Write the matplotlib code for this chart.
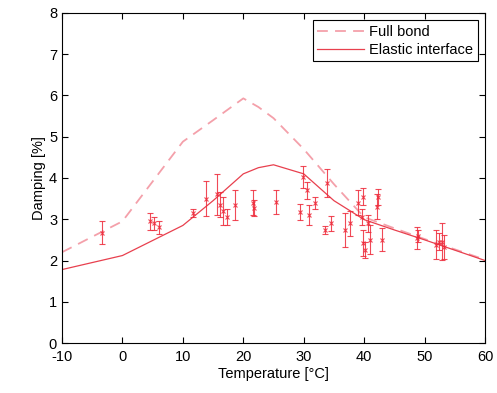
import matplotlib
matplotlib.use("Agg")
import matplotlib.pyplot as plt
import numpy as np

plt.rcParams['font.family'] = ['Liberation Sans', 'DejaVu Sans']
plt.rcParams['axes.unicode_minus'] = False

# model curves
temp_model = [-10, 0, 10, 15, 20, 22.5, 25, 30, 35, 40, 45, 50, 55, 60]
full_bond = [2.2, 2.95, 4.88, 5.4, 5.93, 5.72, 5.45, 4.7, 3.85, 3.05, 2.78, 2.52, 2.27, 2.02]
elastic = [1.78, 2.12, 2.85, 3.45, 4.1, 4.25, 4.32, 4.1, 3.45, 2.99, 2.74, 2.5, 2.25, 2.0]

# measurements
temp_meas = [-3.3, 4.5, 5.3, 6.0, 11.7, 13.8, 15.7, 16.2, 16.7, 17.3, 18.7,
             21.6, 21.8, 25.4, 29.4, 29.9, 30.6, 30.8, 31.9, 33.5, 33.9, 34.5,
             36.9, 37.7, 39.0, 39.6, 39.8, 39.8, 40.2, 40.7, 41.0, 42.1, 42.3,
             42.9, 48.7, 48.9, 51.8, 52.3, 52.9, 53.2]
damp_meas = [2.67, 2.95, 2.9, 2.8, 3.15, 3.5, 3.6, 3.35, 3.2, 3.05, 3.35,
             3.4, 3.27, 3.42, 3.18, 4.03, 3.7, 3.1, 3.4, 2.74, 3.88, 2.9,
             2.74, 2.9, 3.4, 3.06, 3.55, 2.42, 2.25, 2.9, 2.5, 3.3, 3.54,
             2.5, 2.55, 2.6, 2.38, 2.46, 2.46, 2.33]
damp_err = [0.28, 0.2, 0.15, 0.15, 0.1, 0.42, 0.5, 0.3, 0.33, 0.2, 0.37,
            0.3, 0.2, 0.3, 0.2, 0.27, 0.2, 0.25, 0.15, 0.1, 0.33, 0.18,
            0.42, 0.3, 0.3, 0.2, 0.2, 0.32, 0.2, 0.2, 0.35, 0.3, 0.2,
            0.28, 0.26, 0.15, 0.35, 0.2, 0.45, 0.3]

fig = plt.figure(figsize=(4.97, 3.93), dpi=100)
ax = fig.add_axes([0.1247, 0.1272, 0.8513, 0.8398])

ax.plot(temp_model, full_bond, '--', color='#f4a0aa', lw=1.3, dashes=(6, 4), label='Full bond')
ax.plot(temp_model, elastic, '-', color='#e8404e', lw=0.9, label='Elastic interface')
ax.errorbar(temp_meas, damp_meas, yerr=damp_err, fmt='x', color='#ee2a3a', ms=3,
            mew=0.8, elinewidth=0.8, capsize=2.5, capthick=0.8, alpha=0.85)

ax.set_xlim(-10, 60)
ax.set_ylim(0, 8)
ax.set_xticks(np.arange(-10, 61, 10))
ax.set_yticks(np.arange(0, 9, 1))
ax.tick_params(direction='in', top=True, right=True, labelsize=10.5, length=4)
ax.tick_params(axis='x', pad=5)
ax.set_xlabel('Temperature [°C]', fontsize=10.5, labelpad=2)
ax.set_ylabel('Damping [%]', fontsize=10.5, labelpad=2)

leg = ax.legend(loc='upper right', fontsize=10.5, fancybox=False, framealpha=1,
                edgecolor='black', borderaxespad=0.5, handlelength=3.2,
                borderpad=0.3, labelspacing=0.3, handletextpad=0.4)
leg.get_frame().set_linewidth(0.8)

fig.savefig('out.png', dpi=100)
